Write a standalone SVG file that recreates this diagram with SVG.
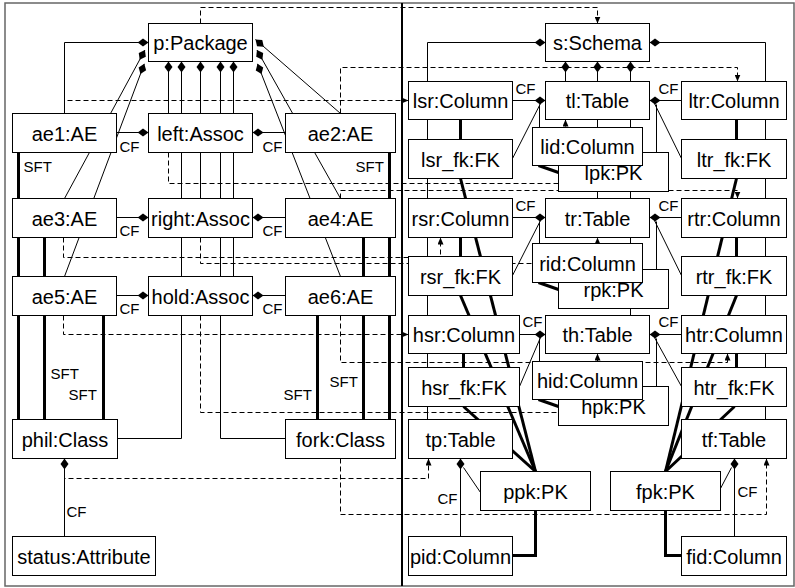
<svg xmlns="http://www.w3.org/2000/svg" width="795" height="588" viewBox="0 0 795 588">
<style>
.n rect{fill:#fff;stroke:#000;stroke-width:1}
.n text{font-family:"Liberation Sans",Arial,sans-serif;font-size:20px;text-anchor:middle;fill:#000}
.c path{fill:none;stroke:#000;stroke-width:1}
.c path.t{stroke-width:3}
.c path.d{stroke-dasharray:5 3}
.lbl{font-family:"Liberation Sans",Arial,sans-serif;font-size:15px;fill:#000}
</style>
<defs>
<marker id="dia" viewBox="0 0 11 10" markerWidth="11" markerHeight="10" refX="0" refY="5" orient="auto" markerUnits="userSpaceOnUse"><path d="M0,5 L5.5,1 L11,5 L5.5,9 Z" fill="#000"/></marker>
<marker id="arr" viewBox="0 0 7 6" markerWidth="7" markerHeight="6" refX="7" refY="3" orient="auto" markerUnits="userSpaceOnUse"><path d="M0,0 L7,3 L0,6 Z" fill="#000"/></marker>
</defs>
<rect x="5" y="3" width="789" height="583" fill="#fff" stroke="#666" stroke-width="1.5"/>
<line x1="402" y1="3" x2="402" y2="586" stroke="#000" stroke-width="2"/>
<g transform="translate(0.5,0.5)">
<g id="connectors" class="c">
<!-- compositions to p:Package -->
<path d="M148,42 L64,42 L64,113" marker-start="url(#dia)"/>
<path d="M144.4,49.6 L64,198" marker-start="url(#dia)"/>
<path d="M143.8,63.3 L64,276" marker-start="url(#dia)"/>
<path d="M255,39 L340,113" marker-start="url(#dia)"/>
<path d="M256.5,49.6 L340,198" marker-start="url(#dia)"/>
<path d="M257,63.3 L340,276" marker-start="url(#dia)"/>
<path d="M168,61 L168,113" marker-start="url(#dia)"/>
<path d="M181,61 L181,438 L117,438" marker-start="url(#dia)"/>
<path d="M200,61 L200,198" marker-start="url(#dia)"/>
<path d="M220,61 L220,438 L285,438" marker-start="url(#dia)"/>
<path d="M233,61 L233,276" marker-start="url(#dia)"/>
<!-- CF AE to Assoc -->
<path d="M148,132 L116,132" marker-start="url(#dia)"/>
<path d="M252,132 L285,132" marker-start="url(#dia)"/>
<path d="M148,217 L116,217" marker-start="url(#dia)"/>
<path d="M252,217 L285,217" marker-start="url(#dia)"/>
<path d="M148,295 L116,295" marker-start="url(#dia)"/>
<path d="M252,295 L285,295" marker-start="url(#dia)"/>
<path d="M64,458 L64,536" marker-start="url(#dia)"/>
<!-- SFT -->
<path class="t" d="M18,152 L18,419"/>
<path class="t" d="M44,237 L44,419"/>
<path class="t" d="M103,315 L103,419"/>
<path class="t" d="M389,152 L389,419"/>
<path class="t" d="M363,237 L363,419"/>
<path class="t" d="M317,315 L317,419"/>
<!-- traces -->
<path class="d" d="M200,23 L200,7 L597,7 L597,23" marker-end="url(#arr)"/>
<path class="d" d="M64,113 L64,100 L408,100" marker-end="url(#arr)"/>
<path class="d" d="M340,113 L340,67 L737,67 L737,81" marker-end="url(#arr)"/>
<path class="d" d="M168,152 L168,183 L565,183 L565,119" marker-end="url(#arr)"/>
<path class="d" d="M340,198 L340,190 L737,190 L737,198" marker-end="url(#arr)"/>
<path class="d" d="M63,237 L63,257 L440,257 L440,237" marker-end="url(#arr)"/>
<path class="d" d="M200,237 L200,263 L597,263 L597,237" marker-end="url(#arr)"/>
<path class="d" d="M63,315 L63,334 L408,334" marker-end="url(#arr)"/>
<path class="d" d="M340,315 L340,362 L727,362 L727,353" marker-end="url(#arr)"/>
<path class="d" d="M200,315 L200,412 L597,412 L597,353" marker-end="url(#arr)"/>
<path class="d" d="M64,458 L64,478 L428,478 L428,458" marker-end="url(#arr)"/>
<path class="d" d="M340,458 L340,514 L766,514 L766,458" marker-end="url(#arr)"/>
<!-- compositions to s:Schema -->
<path d="M545,42 L427,42 L427,419" marker-start="url(#dia)"/>
<path d="M649,42 L765,42 L765,419" marker-start="url(#dia)"/>
<path d="M565,61 L565,81" marker-start="url(#dia)"/>
<path d="M597,61 L597,198" marker-start="url(#dia)"/>
<path d="M630,61 L630,315" marker-start="url(#dia)"/>
<!-- table members -->
<path d="M540,103 L512,158"/>
<path d="M654,103 L681,158"/>
<path d="M540,220 L512,275"/>
<path d="M654,220 L681,275"/>
<path d="M540,337 L519,386"/>
<path d="M654,337 L681,386"/>
<path d="M539,104 L539,127"/>
<path d="M656,104 L656,152"/>
<path d="M539,221 L539,243"/>
<path d="M656,221 L656,269"/>
<path d="M539,338 L539,361"/>
<path d="M656,338 L656,386"/>
<path d="M545,100 L512,100" marker-start="url(#dia)"/>
<path d="M649,100 L681,100" marker-start="url(#dia)"/>
<path d="M545,217 L512,217" marker-start="url(#dia)"/>
<path d="M649,217 L681,217" marker-start="url(#dia)"/>
<path d="M545,334 L519,334" marker-start="url(#dia)"/>
<path d="M649,334 L681,334" marker-start="url(#dia)"/>
<!-- FK references -->
<path class="t" d="M460,119 L460,139"/>
<path class="t" d="M736,119 L736,139"/>
<path class="t" d="M460,237 L460,256"/>
<path class="t" d="M736,237 L736,256"/>
<path class="t" d="M463,353 L463,367"/>
<path class="t" d="M736,353 L736,367"/>
<path class="t" d="M460,178 L535,471"/>
<path class="t" d="M460,295 L535,471"/>
<path class="t" d="M463,406 L535,471"/>
<path class="t" d="M736,178 L665,471"/>
<path class="t" d="M736,295 L665,471"/>
<path class="t" d="M734,406 L665,471"/>
<path class="t" d="M538,165 L558,172"/>
<path class="t" d="M538,282 L558,289"/>
<path class="t" d="M538,399 L558,406"/>
<path class="t" d="M535,510 L535,555 L512,555"/>
<path class="t" d="M665,510 L665,555 L681,555"/>
<!-- tp / tf -->
<path d="M460,458 L460,536" marker-start="url(#dia)"/>
<path d="M463,467 L480,492"/>
<path d="M734,458 L734,536" marker-start="url(#dia)"/>
<path d="M731,467 L720,488"/>
</g>
<g id="labels" class="lbl">
<text x="119" y="151">CF</text><text x="262" y="151">CF</text>
<text x="119" y="235">CF</text><text x="262" y="235">CF</text>
<text x="119" y="313">CF</text><text x="262" y="313">CF</text>
<text x="66" y="516">CF</text>
<text x="23" y="171">SFT</text><text x="355" y="171">SFT</text>
<text x="50" y="378">SFT</text><text x="68" y="399">SFT</text>
<text x="329" y="386">SFT</text><text x="283" y="399">SFT</text>
<text x="515" y="93">CF</text><text x="658" y="93">CF</text>
<text x="515" y="210">CF</text><text x="658" y="210">CF</text>
<text x="522" y="326">CF</text><text x="658" y="326">CF</text>
<text x="437" y="503">CF</text><text x="737" y="496">CF</text>
</g>
<g id="p_Package" class="n"><rect x="148" y="23" width="104" height="38"/><text x="200" y="49.5">p:Package</text></g>
<g id="ae1" class="n"><rect x="12" y="113" width="104" height="39"/><text x="64" y="140">ae1:AE</text></g>
<g id="left" class="n"><rect x="148" y="113" width="104" height="39"/><text x="200" y="140">left:Assoc</text></g>
<g id="ae2" class="n"><rect x="285" y="113" width="110" height="39"/><text x="340" y="140">ae2:AE</text></g>
<g id="ae3" class="n"><rect x="12" y="198" width="104" height="39"/><text x="64" y="225">ae3:AE</text></g>
<g id="right" class="n"><rect x="148" y="198" width="104" height="39"/><text x="200" y="225">right:Assoc</text></g>
<g id="ae4" class="n"><rect x="285" y="198" width="110" height="39"/><text x="340" y="225">ae4:AE</text></g>
<g id="ae5" class="n"><rect x="12" y="276" width="104" height="39"/><text x="64" y="303">ae5:AE</text></g>
<g id="hold" class="n"><rect x="148" y="276" width="104" height="39"/><text x="200" y="303">hold:Assoc</text></g>
<g id="ae6" class="n"><rect x="285" y="276" width="110" height="39"/><text x="340" y="303">ae6:AE</text></g>
<g id="phil" class="n"><rect x="12" y="419" width="105" height="39"/><text x="64.5" y="446">phil:Class</text></g>
<g id="fork" class="n"><rect x="285" y="419" width="110" height="39"/><text x="340" y="446">fork:Class</text></g>
<g id="status" class="n"><rect x="12" y="536" width="143" height="39"/><text x="83.5" y="563">status:Attribute</text></g>
<g id="s_Schema" class="n"><rect x="545" y="23" width="104" height="38"/><text x="597" y="49.5">s:Schema</text></g>
<g id="lsr" class="n"><rect x="408" y="81" width="104" height="38"/><text x="460" y="107.5">lsr:Column</text></g>
<g id="tl" class="n"><rect x="545" y="81" width="104" height="38"/><text x="597" y="107.5">tl:Table</text></g>
<g id="ltr" class="n"><rect x="681" y="81" width="105" height="38"/><text x="733.5" y="107.5">ltr:Column</text></g>
<g id="lsr_fk" class="n"><rect x="408" y="139" width="104" height="39"/><text x="460" y="166">lsr_fk:FK</text></g>
<g id="lpk" class="n"><rect x="558" y="152" width="110" height="39"/><text x="613" y="179">lpk:PK</text></g>
<g id="lid" class="n"><rect x="532" y="127" width="110" height="38"/><text x="587" y="153.5">lid:Column</text></g>
<g id="ltr_fk" class="n"><rect x="681" y="139" width="105" height="39"/><text x="733.5" y="166">ltr_fk:FK</text></g>
<g id="rsr" class="n"><rect x="408" y="198" width="104" height="39"/><text x="460" y="225">rsr:Column</text></g>
<g id="tr" class="n"><rect x="545" y="198" width="104" height="39"/><text x="597" y="225">tr:Table</text></g>
<g id="rtr" class="n"><rect x="681" y="198" width="105" height="39"/><text x="733.5" y="225">rtr:Column</text></g>
<g id="rsr_fk" class="n"><rect x="408" y="256" width="104" height="39"/><text x="460" y="283">rsr_fk:FK</text></g>
<g id="rpk" class="n"><rect x="558" y="269" width="110" height="39"/><text x="613" y="296">rpk:PK</text></g>
<g id="rid" class="n"><rect x="532" y="243" width="110" height="39"/><text x="587" y="270">rid:Column</text></g>
<g id="rtr_fk" class="n"><rect x="681" y="256" width="105" height="39"/><text x="733.5" y="283">rtr_fk:FK</text></g>
<g id="hsr" class="n"><rect x="408" y="315" width="111" height="38"/><text x="463.5" y="341.5">hsr:Column</text></g>
<g id="th" class="n"><rect x="545" y="315" width="104" height="38"/><text x="597" y="341.5">th:Table</text></g>
<g id="htr" class="n"><rect x="681" y="315" width="105" height="38"/><text x="733.5" y="341.5">htr:Column</text></g>
<g id="hsr_fk" class="n"><rect x="408" y="367" width="111" height="39"/><text x="463.5" y="394">hsr_fk:FK</text></g>
<g id="hpk" class="n"><rect x="558" y="386" width="110" height="39"/><text x="613" y="413">hpk:PK</text></g>
<g id="hid" class="n"><rect x="532" y="361" width="110" height="38"/><text x="587" y="387.5">hid:Column</text></g>
<g id="htr_fk" class="n"><rect x="681" y="367" width="105" height="39"/><text x="733.5" y="394">htr_fk:FK</text></g>
<g id="tp" class="n"><rect x="408" y="419" width="104" height="39"/><text x="460" y="446">tp:Table</text></g>
<g id="tf" class="n"><rect x="681" y="419" width="105" height="39"/><text x="733.5" y="446">tf:Table</text></g>
<g id="ppk" class="n"><rect x="480" y="471" width="110" height="39"/><text x="535" y="498">ppk:PK</text></g>
<g id="fpk" class="n"><rect x="610" y="471" width="110" height="39"/><text x="665" y="498">fpk:PK</text></g>
<g id="pid" class="n"><rect x="408" y="536" width="104" height="39"/><text x="460" y="563">pid:Column</text></g>
<g id="fid" class="n"><rect x="681" y="536" width="105" height="39"/><text x="733.5" y="563">fid:Column</text></g>
</g>
</svg>
